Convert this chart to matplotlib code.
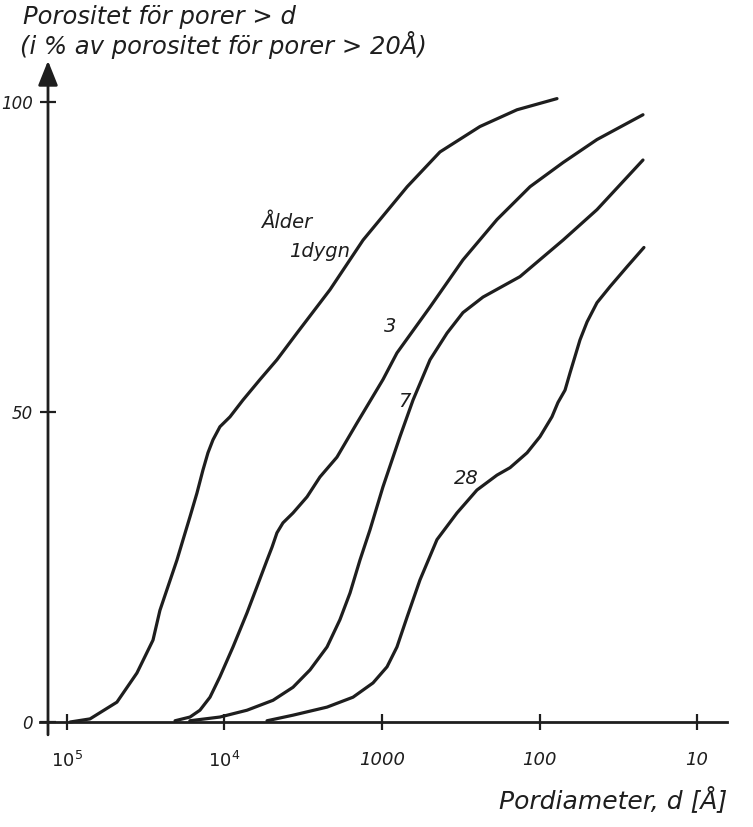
import numpy as np
import matplotlib
matplotlib.use("Agg")
import matplotlib.pyplot as plt

plt.rcParams['font.family'] = ['DejaVu Sans']
plt.rcParams['mathtext.default'] = 'it'

INK = '#1e1e1e'

# log10 of pore diameter d [Å] and porosity for pores > d (% of porosity for pores > 20 Å)
logd_1 = [4.98, 4.854, 4.683, 4.556, 4.454, 4.41, 4.302, 4.263, 4.219, 4.175,
          4.137, 4.105, 4.073, 4.029, 3.965, 3.883, 3.775, 3.667, 3.54, 3.33,
          3.12, 2.84, 2.632, 2.378, 2.143, 1.889]
por_1 = [0.0, 0.5, 3.2, 7.9, 13.2, 18.0, 26.1, 29.4, 33.1, 36.9,
         40.6, 43.4, 45.5, 47.6, 49.2, 51.9, 55.2, 58.4, 62.7, 69.7,
         77.7, 86.3, 91.9, 96.0, 98.7, 100.5]

logd_3 = [4.314, 4.219, 4.156, 4.092, 4.029, 3.946, 3.857, 3.794, 3.73, 3.698,
          3.667, 3.629, 3.565, 3.476, 3.394, 3.286, 3.159, 2.994, 2.905, 2.695,
          2.486, 2.27, 2.06, 1.85, 1.635, 1.343]
por_3 = [0.2, 0.8, 1.9, 4.0, 7.3, 12.1, 17.6, 21.8, 26.1, 28.2,
         30.5, 32.1, 33.7, 36.3, 39.5, 42.7, 48.2, 55.2, 59.5, 66.9,
         74.5, 81.0, 86.3, 90.2, 93.9, 97.9]

logd_7 = [4.22, 4.029, 3.857, 3.692, 3.565, 3.457, 3.349, 3.267, 3.203, 3.14,
          3.076, 2.994, 2.886, 2.803, 2.695, 2.587, 2.486, 2.359, 2.124, 1.85,
          1.635, 1.343]
por_7 = [0.2, 0.8, 1.9, 3.5, 5.6, 8.4, 12.1, 16.5, 20.8, 26.1,
         31.0, 37.9, 46.0, 51.9, 58.4, 62.7, 66.0, 68.5, 71.8, 77.7,
         82.6, 90.6]

logd_28 = [3.73, 3.565, 3.349, 3.184, 3.057, 2.968, 2.905, 2.841, 2.759,
           2.651, 2.524, 2.397, 2.27, 2.187, 2.079, 1.997, 1.921, 1.883, 1.838,
           1.806, 1.775, 1.743, 1.698, 1.635, 1.552, 1.444, 1.337]
por_28 = [0.2, 1.1, 2.4, 4.0, 6.3, 8.9, 12.1, 16.9, 22.9,
          29.4, 33.7, 37.4, 39.8, 41.0, 43.4, 46.0, 49.2, 51.5, 53.5,
          56.3, 58.9, 61.6, 64.5, 67.6, 70.2, 73.4, 76.5]

xtick_vals = [1e5, 1e4, 1000, 100, 10]
xtick_labels = ['$10^5$', '$10^4$', '1000', '100', '10']
ytick_vals = [0, 50, 100]
ytick_labels = ['0', '50', '100']

fig = plt.figure(figsize=(7.53, 8.27), dpi=100)
ax = fig.add_axes([48 / 753, 1 - 722 / 827, (727 - 48) / 753, (722 - 80) / 827])

for lx, py in [(logd_1, por_1), (logd_3, por_3), (logd_7, por_7), (logd_28, por_28)]:
    ax.plot(10 ** np.array(lx), py, color=INK, lw=2.3,
            solid_capstyle='round', solid_joinstyle='round', clip_on=False)

ax.set_xscale('log')
ax.set_xlim(10 ** 5.1206, 6.45)
ax.set_ylim(0, 103.5)

for s in ax.spines.values():
    s.set_visible(False)

# hand drawn axes: x axis runs a bit past the y axis, y axis ends in an arrow
ax.plot([-0.012, 1.0], [0, 0], transform=ax.transAxes, color=INK, lw=2.0, clip_on=False)
ax.annotate('', xy=(0, 1.03), xytext=(0, -0.02), xycoords='axes fraction',
            arrowprops=dict(arrowstyle='-|>,head_length=0.75,head_width=0.3',
                            mutation_scale=20, color=INK, lw=2.0,
                            shrinkA=0, shrinkB=0))

ax.set_xticks(xtick_vals)
ax.set_xticklabels(xtick_labels)
ax.xaxis.set_minor_locator(matplotlib.ticker.NullLocator())
ax.set_yticks(ytick_vals)
ax.set_yticklabels(ytick_labels)
ax.tick_params(axis='both', direction='inout', length=12, width=1.6, color=INK,
               labelcolor=INK)
ax.tick_params(axis='x', pad=15, labelsize=13)
ax.tick_params(axis='y', pad=5, labelsize=12)
for t in ax.get_xticklabels() + ax.get_yticklabels():
    t.set_fontstyle('italic')

txt = dict(color=INK, fontstyle='italic', fontsize=14, ha='center', va='center')
ax.text(10 ** 3.603, 80.6, 'Ålder', **txt)
ax.text(10 ** 3.394, 75.8, '1dygn', **txt)
ax.text(10 ** 2.949, 63.7, '3', **txt)
ax.text(10 ** 2.86, 51.6, '7', **txt)
ax.text(10 ** 2.467, 39.2, '28', **txt)

fig.text(23 / 753, 1 - 17 / 827, 'Porositet för porer > d', color=INK,
         fontstyle='italic', fontsize=17.5, ha='left', va='center')
fig.text(20 / 753, 1 - 45 / 827, '(i % av porositet för porer > 20Å)', color=INK,
         fontstyle='italic', fontsize=17.5, ha='left', va='center')
fig.text(727 / 753, 1 - 800 / 827, 'Pordiameter, d [Å]', color=INK,
         fontstyle='italic', fontsize=18, ha='right', va='center')

fig.savefig('out.png', dpi=100, facecolor='white')
